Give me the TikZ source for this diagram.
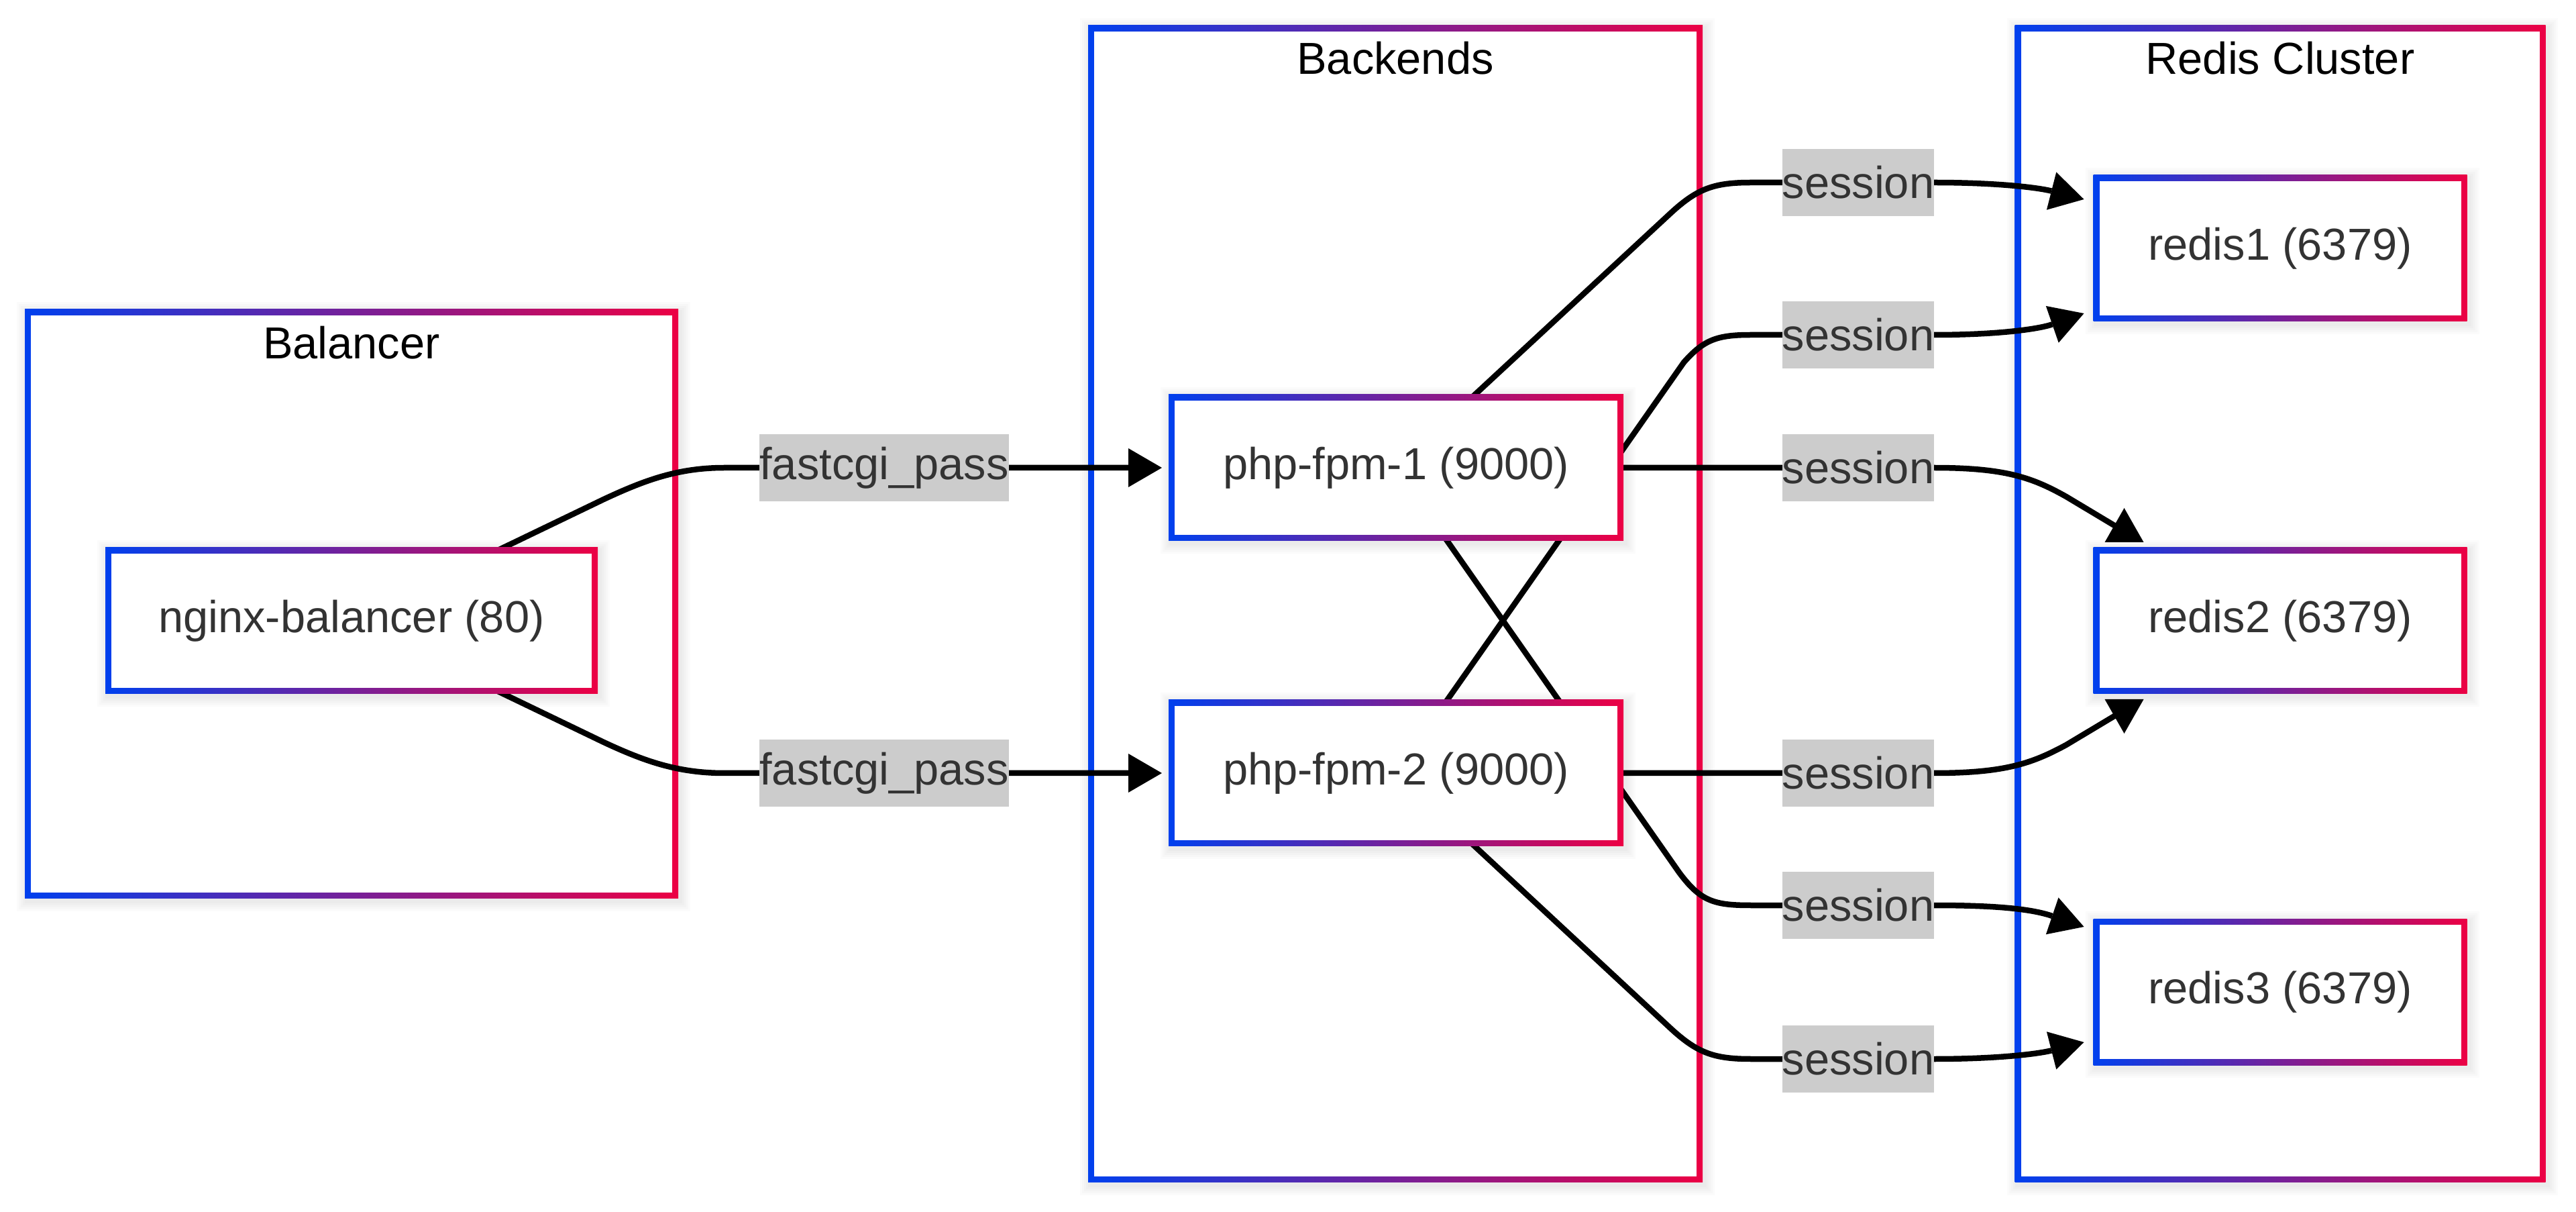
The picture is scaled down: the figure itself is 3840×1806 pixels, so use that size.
\documentclass[tikz,border=0pt]{standalone}
\usepackage{fontspec}
\setmainfont{Liberation Sans}
\usetikzlibrary{arrows.meta}
\definecolor{cA}{RGB}{0,64,238}
\definecolor{cB}{RGB}{236,0,68}
\definecolor{txt}{RGB}{51,51,51}
\definecolor{lblbg}{RGB}{204,204,204}
\pgfdeclarelayer{ringbg}
\pgfdeclarelayer{clusterbg}
\pgfdeclarelayer{edgel}
\pgfdeclarelayer{ringfg}
\pgfsetlayers{ringbg,clusterbg,edgel,ringfg,main}
\newcommand\gradring[2]{%
  \foreach \k in {3,6,9,12,15}{%
    \fill[black,opacity=0.016] ([shift={(-#2-\k+3,#2+\k+4)}]#1.south west) rectangle ([shift={(#2+\k+3,-#2-\k+4)}]#1.north east);}%
  \shade[left color=cA,right color=cB] ([shift={(-#2,#2)}]#1.south west) rectangle ([shift={(#2,-#2)}]#1.north east);}
\begin{document}
\begin{tikzpicture}[x=0.1mm,y=-0.1mm,
  every node/.style={font=\fontsize{19}{23}\selectfont, inner sep=0pt, outer sep=0pt},
  cluster/.style={rectangle, fill=white},
  svc/.style={rectangle, fill=white, text=txt, minimum height=20mm},
  lbl/.style={rectangle, fill=lblbg, text=txt, minimum height=10mm, inner xsep=0pt},
  ttl/.style={anchor=base, text=black},
  edge/.style={draw=black, line width=0.85mm, line join=round},
  arr/.style={-{Triangle[length=5mm,width=5.8mm,line width=0pt]}},
]
\begin{pgfonlayer}{ringbg}
\fill[white] (0,0) rectangle (3840,1806);
\end{pgfonlayer}
\useasboundingbox (0,0) rectangle (3840,1806);

% clusters
\begin{pgfonlayer}{clusterbg}
\node[cluster, minimum width=95.6mm, minimum height=86mm] (balancer) at (524,900) {};
\node[cluster, minimum width=89.8mm, minimum height=170.6mm] (backends) at (2080,900) {};
\node[cluster, minimum width=77.3mm, minimum height=170.6mm] (redisc) at (3399,900) {};
\end{pgfonlayer}
\begin{pgfonlayer}{ringbg}
\gradring{balancer}{9}
\gradring{backends}{9}
\gradring{redisc}{9}
\end{pgfonlayer}
\node[ttl] (tbal) at (524,535) {Balancer};
\node[ttl] (tback) at (2080,111) {Backends};
\node[ttl] (tredis) at (3399,111) {Redis Cluster};

% service nodes
\node[svc, minimum width=71.6mm] (nginx) at (524,925) {nginx-balancer (80)};
\node[svc, minimum width=66mm] (php1) at (2081,697) {php-fpm-1 (9000)};
\node[svc, minimum width=66mm] (php2) at (2081,1152) {php-fpm-2 (9000)};
\node[svc, minimum width=53.9mm] (redis1) at (3399,370) {redis1 (6379)};
\node[svc, minimum width=53.9mm] (redis2) at (3399,925) {redis2 (6379)};
\node[svc, minimum width=53.9mm] (redis3) at (3399,1478) {redis3 (6379)};
\begin{pgfonlayer}{ringfg}
\gradring{nginx}{9}
\gradring{php1}{9}
\gradring{php2}{9}
\gradring{redis1}{9}
\gradring{redis2}{9}
\gradring{redis3}{9}
\end{pgfonlayer}

% edge labels
\node[lbl] (f1) at (1318,697) {fastcgi\_pass};
\node[lbl] (f2) at (1318,1152) {fastcgi\_pass};
\node[lbl] (s1) at (2770,272) {session};
\node[lbl] (s2) at (2770,499) {session};
\node[lbl] (s3) at (2770,697) {session};
\node[lbl] (s4) at (2770,1152) {session};
\node[lbl] (s5) at (2770,1349) {session};
\node[lbl] (s6) at (2770,1578) {session};

% edges
\begin{pgfonlayer}{edgel}
\draw[edge,arr] (nginx.center) -- (900,744) .. controls (960,716) and (1010,697) .. (1080,697) -- (f1.center) -- ([shift={(-19,0)}]php1.west);
\draw[edge,arr] (nginx.center) -- (900,1106) .. controls (960,1134) and (1010,1152) .. (1080,1152) -- (f2.center) -- ([shift={(-19,0)}]php2.west);

\draw[edge,arr] (php1.center) -- (2490,318) .. controls (2530,281) and (2555,272) .. (2610,272) -- (s1.center) -- (2883,272) .. controls (2980,272) and (3040,280) .. ([shift={(-23,-73)}]redis1.west);
\draw[edge,arr] (php2.center) -- (2510,540) .. controls (2540,506) and (2560,499) .. (2610,499) -- (s2.center) -- (2883,499) .. controls (2980,499) and (3040,490) .. ([shift={(-23,97)}]redis1.west);

\draw[edge] (php1.center) -- (s3.center) -- (2883,697) .. controls (2990,697) and (3030,712) .. (3080,740) -- ([shift={(34,-35)}]redis2.north west);
\fill ([shift={(8,-17)}]redis2.north west) -- ([shift={(66,-17)}]redis2.north west) -- ([shift={(37,-68)}]redis2.north west) -- cycle;
\draw[edge] (php2.center) -- (s4.center) -- (2883,1152) .. controls (2990,1152) and (3030,1137) .. (3080,1110) -- ([shift={(34,35)}]redis2.south west);
\fill ([shift={(8,17)}]redis2.south west) -- ([shift={(66,17)}]redis2.south west) -- ([shift={(37,68)}]redis2.south west) -- cycle;

\draw[edge,arr] (php1.center) -- (2503,1300) .. controls (2535,1343) and (2555,1349) .. (2610,1349) -- (s5.center) -- (2883,1349) .. controls (2980,1349) and (3030,1355) .. ([shift={(-23,-97)}]redis3.west);
\draw[edge,arr] (php2.center) -- (2490,1532) .. controls (2530,1569) and (2555,1578) .. (2610,1578) -- (s6.center) -- (2883,1578) .. controls (2980,1578) and (3040,1570) .. ([shift={(-23,75)}]redis3.west);
\end{pgfonlayer}
\end{tikzpicture}
\end{document}
